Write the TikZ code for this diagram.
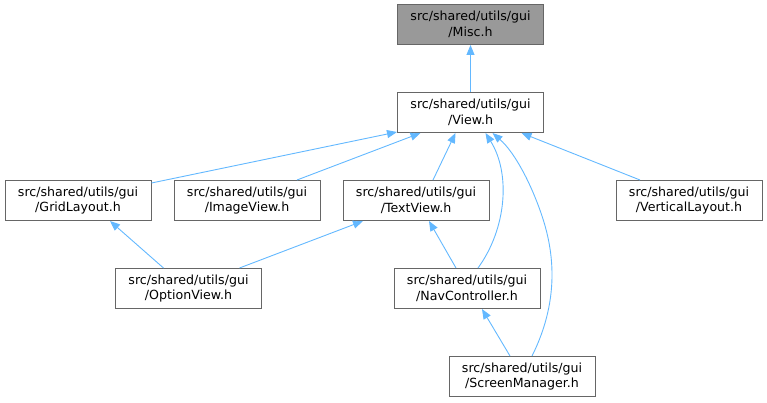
\documentclass[tikz,border=0pt]{standalone}
\usepackage{fontspec}
\setmainfont{DejaVu Sans}
\usetikzlibrary{arrows.meta,calc}
\definecolor{edgeblue}{HTML}{63B8FF}
\definecolor{boxline}{HTML}{666666}
\definecolor{miscfill}{HTML}{999999}
\tikzset{
  filebox/.style={draw=boxline, line width=1pt, fill=white, rectangle, minimum width=146pt, minimum height=40pt, inner sep=0pt, align=center, font=\fontsize{12.6}{15.5}\selectfont},
  hlbox/.style={filebox, fill=miscfill},
  edge/.style={draw=edgeblue, line width=0.9pt, -{Triangle[length=10pt,width=8pt]}}
}
\begin{document}
\begin{tikzpicture}[x=1pt,y=-1pt]
\useasboundingbox (0,0) rectangle (767,403);
\node[hlbox]   (misc)   at (470.5,24.5) {src/shared/utils/gui\\/Misc.h};
\node[filebox] (view)   at (470.5,112.5) {src/shared/utils/gui\\/View.h};
\node[filebox] (grid)   at (78,200.5) {src/shared/utils/gui\\/GridLayout.h};
\node[filebox] (image)  at (247,200.5) {src/shared/utils/gui\\/ImageView.h};
\node[filebox] (text)   at (416,200.5) {src/shared/utils/gui\\/TextView.h};
\node[filebox] (vert)   at (689,200.5) {src/shared/utils/gui\\/VerticalLayout.h};
\node[filebox] (option) at (188.5,288.5) {src/shared/utils/gui\\/OptionView.h};
\node[filebox] (nav)    at (467,288.5) {src/shared/utils/gui\\/NavController.h};
\node[filebox] (screen) at (522,376.5) {src/shared/utils/gui\\/ScreenManager.h};

\draw[edge] (view.north) -- (misc.south);
\draw[edge] ($(grid.north east)+(0,3)$) -- ($(view.south west)+(0,-1)$);
\draw[edge] ($(image.north)+(50,0)$) -- ($(view.south)+(-50,0)$);
\draw[edge] ($(text.north)+(17,0)$) -- ($(view.south)+(-15,0)$);
\draw[edge] ($(nav.north)+(11,0)$) .. controls ($(nav.north)+(40,-40)$) and ($(view.south)+(40,40)$) .. ($(view.south)+(15,0)$);
\draw[edge] ($(screen.north)+(10,0)$) .. controls ($(screen.north)+(40,-60)$) and ($(screen.north)+(30,-110)$) .. ($(screen.north)+(20,-140)$)
  .. controls ($(screen.north)+(10,-170)$) and ($(view.south)+(45,20)$) .. ($(view.south)+(22,0)$);
\draw[edge] ($(vert.north)+(-49,0)$) -- ($(view.south)+(51,0)$);
\draw[edge] ($(option.north)+(-25,0)$) -- ($(grid.south)+(32,0)$);
\draw[edge] ($(option.north)+(51,0)$) -- ($(text.south)+(-53,0)$);
\draw[edge] ($(nav.north)+(-11,0)$) -- ($(text.south)+(13,0)$);
\draw[edge] ($(screen.north)+(-12,0)$) -- ($(nav.south)+(15,0)$);
\end{tikzpicture}
\end{document}
